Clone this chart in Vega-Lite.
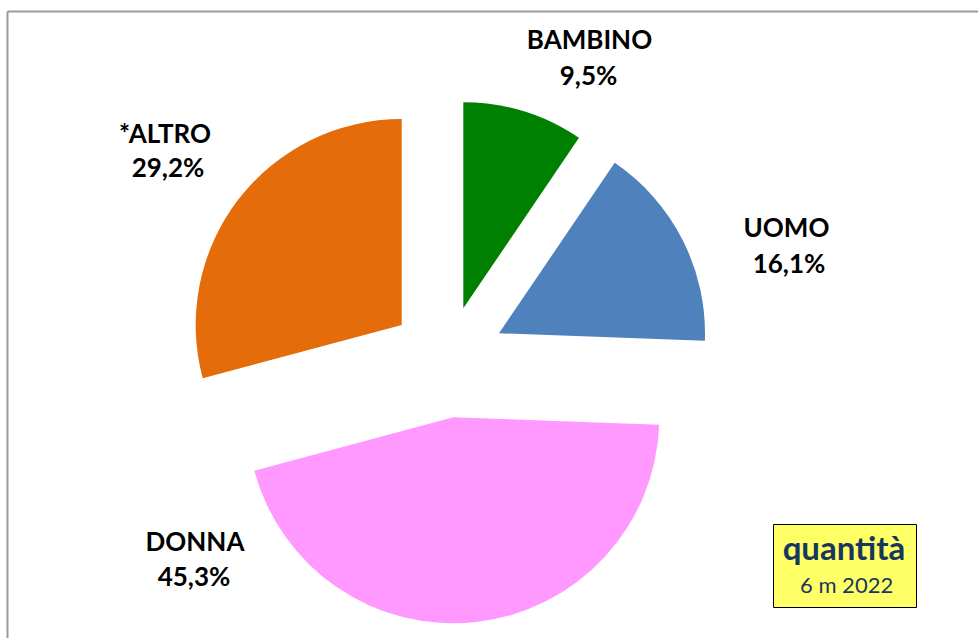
{
  "$schema": "https://vega.github.io/schema/vega-lite/v6.json",
  "width": 971,
  "height": 627,
  "autosize": {"type": "none"},
  "padding": {"left": 7, "top": 11, "right": 0, "bottom": 0},
  "background": "white",
  "view": {"stroke": null},
  "config": {
    "locale": {"number": {"decimal": ",", "thousands": ".", "grouping": [3], "currency": ["€", ""]}},
    "text": {"font": "Lato", "fontWeight": "bold", "fontSize": 26, "color": "#000000", "align": "center", "baseline": "alphabetic"}
  },
  "data": {"values": [
    {"cat": "BAMBINO", "label": "BAMBINO", "share": 0.095, "ord": 1},
    {"cat": "UOMO", "label": "UOMO", "share": 0.161, "ord": 2},
    {"cat": "DONNA", "label": "DONNA", "share": 0.453, "ord": 3},
    {"cat": "ALTRO", "label": "*ALTRO", "share": 0.292, "ord": 4}
  ]},
  "transform": [
    {"stack": "share", "groupby": [], "sort": [{"field": "ord"}], "offset": "normalize", "as": ["v0", "v1"]}
  ],
  "layer": [
    {
      "transform": [{"filter": "datum.cat === 'ALTRO'"}],
      "mark": {"type": "point", "opacity": 0},
      "encoding": {
        "x": {"datum": 0, "type": "quantitative", "scale": {"domain": [0, 1]},
              "axis": {"orient": "top", "domainColor": "#9a9a9a", "domainWidth": 2, "ticks": false, "labels": false, "grid": false, "title": null}},
        "y": {"datum": 0, "type": "quantitative", "scale": {"domain": [0, 1]},
              "axis": {"orient": "left", "domainColor": "#9a9a9a", "domainWidth": 2, "ticks": false, "labels": false, "grid": false, "title": null}}
      }
    },
    {
      "transform": [{"filter": "datum.cat === 'BAMBINO'"}],
      "layer": [
        {"mark": {"type": "arc", "outerRadius": 206, "xOffset": -29.2, "yOffset": -16.2},
         "encoding": {
           "theta": {"field": "v0", "type": "quantitative", "scale": {"domain": [0, 1], "range": [0, 6.283185307179586]}},
           "theta2": {"field": "v1"},
           "color": {"field": "cat", "type": "nominal", "scale": {"domain": ["BAMBINO", "UOMO", "DONNA", "ALTRO"], "range": ["#008000", "#4F81BD", "#FF99FF", "#E46C0A"]}, "legend": null}
         }},
        {"mark": {"type": "text", "xOffset": 97, "yOffset": -275.2}, "encoding": {"text": {"field": "label"}}},
        {"mark": {"type": "text", "xOffset": 96, "yOffset": -239.5}, "encoding": {"text": {"field": "share", "type": "quantitative", "format": ".1%"}}}
      ]
    },
    {
      "transform": [{"filter": "datum.cat === 'UOMO'"}],
      "layer": [
        {"mark": {"type": "arc", "outerRadius": 206, "xOffset": 6.5, "yOffset": 8.8},
         "encoding": {
           "theta": {"field": "v0", "type": "quantitative", "scale": {"domain": [0, 1], "range": [0, 6.283185307179586]}},
           "theta2": {"field": "v1"},
           "color": {"field": "cat", "type": "nominal", "legend": null}
         }},
        {"mark": {"type": "text", "xOffset": 294, "yOffset": -87.8}, "encoding": {"text": {"field": "label"}}},
        {"mark": {"type": "text", "xOffset": 296.5, "yOffset": -51.5}, "encoding": {"text": {"field": "share", "type": "quantitative", "format": ".1%"}}}
      ]
    },
    {
      "transform": [{"filter": "datum.cat === 'DONNA'"}],
      "layer": [
        {"mark": {"type": "arc", "outerRadius": 206, "xOffset": -39.2, "yOffset": 92.8},
         "encoding": {
           "theta": {"field": "v0", "type": "quantitative", "scale": {"domain": [0, 1], "range": [0, 6.283185307179586]}},
           "theta2": {"field": "v1"},
           "color": {"field": "cat", "type": "nominal", "legend": null}
         }},
        {"mark": {"type": "text", "xOffset": -297.5, "yOffset": 226.5}, "encoding": {"text": {"field": "label"}}},
        {"mark": {"type": "text", "xOffset": -298.5, "yOffset": 261}, "encoding": {"text": {"field": "share", "type": "quantitative", "format": ".1%"}}}
      ]
    },
    {
      "transform": [{"filter": "datum.cat === 'ALTRO'"}],
      "layer": [
        {"mark": {"type": "arc", "outerRadius": 206, "xOffset": -90.8, "yOffset": 0.5},
         "encoding": {
           "theta": {"field": "v0", "type": "quantitative", "scale": {"domain": [0, 1], "range": [0, 6.283185307179586]}},
           "theta2": {"field": "v1"},
           "color": {"field": "cat", "type": "nominal", "legend": null}
         }},
        {"mark": {"type": "text", "xOffset": -327.5, "yOffset": -181.8}, "encoding": {"text": {"field": "label"}}},
        {"mark": {"type": "text", "xOffset": -324.5, "yOffset": -147.5, "strokeWidth": 0},
         "encoding": {
           "text": {"field": "share", "type": "quantitative", "format": ".1%"},
           "stroke": {"datum": "6 m 2022", "type": "nominal", "scale": {"range": ["#000000"]}, "legend": {
             "title": "quantità", "orient": "none", "legendX": 766, "legendY": 513,
             "fillColor": "#FFFF66", "strokeColor": "#000000", "padding": 10,
             "titleFont": "Lato", "titleFontSize": 33, "titleFontWeight": "bold", "titleColor": "#17375E",
             "titleAnchor": "middle", "titlePadding": 8,
             "labelFont": "Lato", "labelFontSize": 22, "labelFontWeight": "normal", "labelColor": "#17375E",
             "symbolOpacity": 0, "symbolStrokeWidth": 0, "symbolSize": 40, "labelOffset": -17
           }}
         }}
      ]
    }
  ]
}
